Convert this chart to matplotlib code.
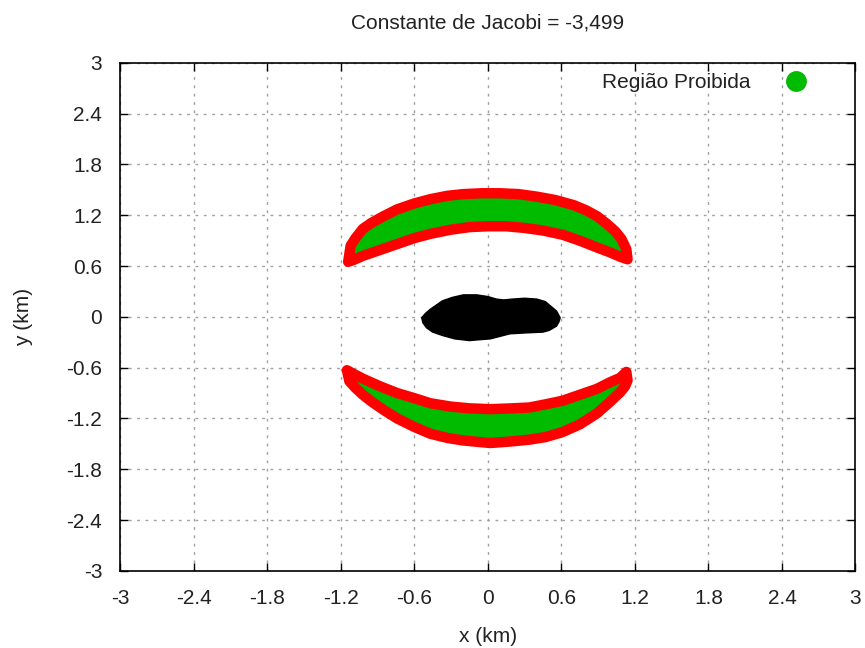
import numpy as np
import matplotlib
matplotlib.use('Agg')
import matplotlib.pyplot as plt
from matplotlib.lines import Line2D
from matplotlib.ticker import FormatStrFormatter

plt.rcParams['font.family'] = ['Liberation Sans', 'DejaVu Sans']

# boundary of the forbidden region above the body (outer edge left->right, then inner edge right->left)
upper_outer_x = [-1.14, -1.12, -1.08, -1.02, -0.95, -0.85, -0.74, -0.60, -0.47, -0.33, -0.20, -0.05,
                 0.10, 0.25, 0.40, 0.55, 0.70, 0.80, 0.89, 0.97, 1.04, 1.09, 1.13, 1.14]
upper_outer_y = [0.65, 0.84, 0.93, 1.04, 1.11, 1.19, 1.27, 1.34, 1.39, 1.43, 1.45, 1.46,
                 1.46, 1.45, 1.42, 1.38, 1.32, 1.26, 1.19, 1.10, 1.01, 0.92, 0.80, 0.68]
upper_inner_x = [1.08, 1.00, 0.89, 0.75, 0.61, 0.45, 0.30, 0.15, 0.00, -0.15, -0.30, -0.47,
                 -0.60, -0.74, -0.88, -1.02, -1.10]
upper_inner_y = [0.71, 0.76, 0.82, 0.90, 0.97, 1.02, 1.05, 1.07, 1.07, 1.06, 1.03, 0.98,
                 0.93, 0.86, 0.79, 0.72, 0.67]

# boundary of the forbidden region below the body (inner edge left->right, then outer edge right->left)
lower_inner_x = [-1.15, -1.10, -1.02, -0.88, -0.74, -0.60, -0.47, -0.30, -0.15, 0.02, 0.20, 0.34,
                 0.48, 0.61, 0.75, 0.89, 1.00, 1.08, 1.13]
lower_inner_y = [-0.63, -0.67, -0.73, -0.82, -0.90, -0.96, -1.02, -1.06, -1.08, -1.09, -1.08, -1.07,
                 -1.03, -0.99, -0.92, -0.85, -0.77, -0.72, -0.65]
lower_outer_x = [1.14, 1.12, 1.08, 1.00, 0.89, 0.75, 0.61, 0.47, 0.34, 0.20, 0.02, -0.20, -0.33,
                 -0.47, -0.60, -0.74, -0.85, -0.95, -1.02, -1.08, -1.13]
lower_outer_y = [-0.75, -0.82, -0.89, -1.00, -1.14, -1.27, -1.36, -1.42, -1.45, -1.47, -1.49, -1.46, -1.43,
                 -1.38, -1.30, -1.20, -1.10, -1.00, -0.92, -0.84, -0.76]

# outline of the asteroid body
body_x = [-0.54, -0.51, -0.47, -0.42, -0.37, -0.29, -0.20, -0.09, 0.00, 0.07, 0.13, 0.20, 0.30, 0.40,
          0.47, 0.51, 0.56, 0.59, 0.58, 0.56, 0.50, 0.45, 0.30, 0.18, 0.10, 0.02, -0.07, -0.15,
          -0.27, -0.37, -0.45, -0.50, -0.53]
body_y = [-0.01, 0.04, 0.09, 0.14, 0.19, 0.23, 0.26, 0.26, 0.24, 0.21, 0.20, 0.21, 0.22, 0.21,
          0.18, 0.13, 0.07, -0.01, -0.06, -0.11, -0.16, -0.18, -0.19, -0.20, -0.23, -0.26, -0.27, -0.28,
          -0.26, -0.22, -0.18, -0.13, -0.07]

ticks = np.round(np.arange(-3, 3.01, 0.6), 1)

green = '#00bb00'
red = '#ff0000'
fs = 15

fig = plt.figure(figsize=(8.65, 6.48), dpi=100)
ax = fig.add_axes([0.139, 0.119, 0.850, 0.784])

# forbidden regions: green fill with a thick red border
for xs, ys in [(upper_outer_x + upper_inner_x, upper_outer_y + upper_inner_y),
               (lower_inner_x + lower_outer_x, lower_inner_y + lower_outer_y)]:
    ax.fill(xs, ys, facecolor=green, edgecolor=red, linewidth=7.5, joinstyle='round', zorder=2)

ax.fill(body_x, body_y, color='black', linewidth=1, zorder=3)

ax.set_xlim(-3, 3)
ax.set_ylim(-3, 3)
ax.set_xticks(ticks)
ax.set_yticks(ticks)
ax.xaxis.set_major_formatter(FormatStrFormatter('%g'))
ax.yaxis.set_major_formatter(FormatStrFormatter('%g'))
ax.tick_params(direction='in', length=6, width=1, top=True, right=True,
               labelsize=fs, pad=13, colors='black', labelcolor='#222222')
ax.grid(True, color='#a0a0a0', linestyle=(0, (2, 4)), linewidth=1)
ax.set_axisbelow(True)
for s in ax.spines.values():
    s.set_linewidth(1.2)

ax.set_xlabel('x (km)', fontsize=fs, color='#222222', labelpad=14)
ax.set_ylabel('y (km)', fontsize=fs, color='#222222', labelpad=24)
ax.set_title('Constante de Jacobi = -3,499', fontsize=fs, color='#222222', pad=25)

handle = Line2D([], [], linestyle='none', marker='o', markersize=14,
                markerfacecolor=green, markeredgecolor=green)
ax.legend([handle], ['Região Proibida'], loc='upper right', bbox_to_anchor=(0.962, 1.0),
          frameon=False, markerfirst=False, fontsize=fs, handletextpad=1.2,
          borderaxespad=0.1, labelcolor='#222222')

plt.savefig('out.png', dpi=100)
